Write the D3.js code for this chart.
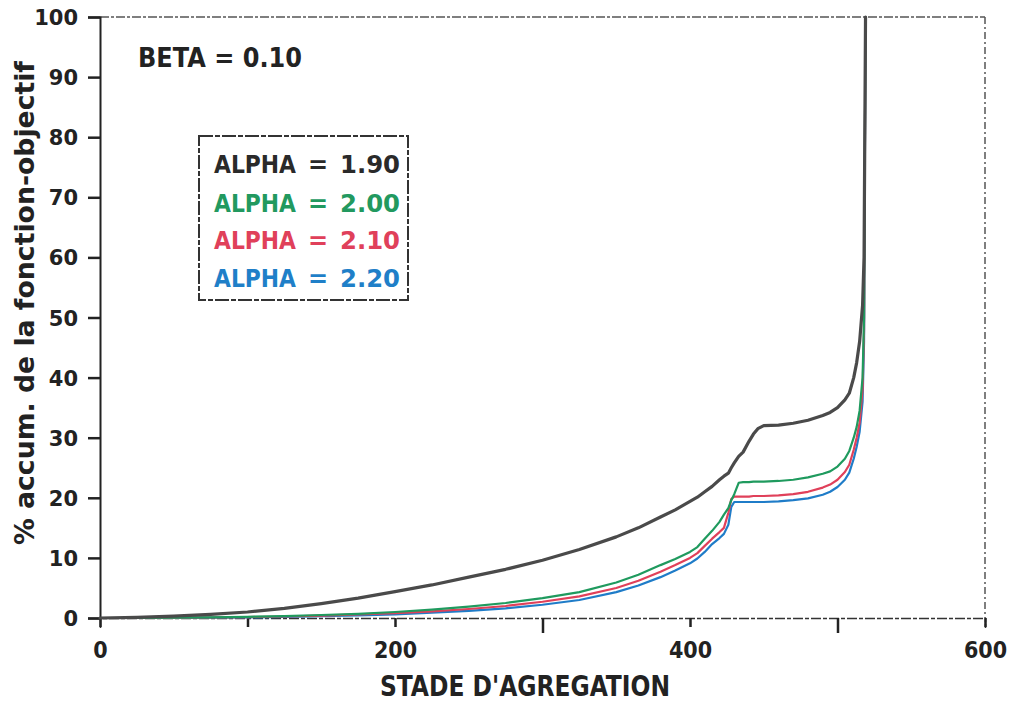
<!DOCTYPE html>
<html>
<head>
<meta charset="utf-8">
<script src="https://cdn.jsdelivr.net/npm/d3@7/dist/d3.min.js"></script>
<style>
  html, body { margin: 0; padding: 0; background: #fff; }
  svg { display: block; }
</style>
</head>
<body>
<svg id="chart" width="1012" height="702"></svg>
<script>
// Aggregation stage (x) shared by all series
const stades = [0, 25, 50, 75, 100, 125, 150, 175, 200, 225, 250, 275, 300, 325, 350, 365, 380, 390,
  400, 405, 410, 415, 420, 423, 426, 428, 430, 433, 436, 440, 443, 446, 450, 460, 470, 480, 490,
  495, 500, 505, 508, 511, 513, 515, 517, 518, 519];

// Cumulated % of the objective function for each ALPHA (BETA = 0.10)
const alpha190 = [0, 0.1, 0.3, 0.6, 1.0, 1.6, 2.4, 3.3, 4.4, 5.5, 6.8, 8.1, 9.6, 11.4, 13.5, 15.0, 16.8, 18.0,
  19.4, 20.1, 21.0, 21.9, 23.0, 23.6, 24.1, 25.0, 25.8, 26.9, 27.6, 29.4, 30.6, 31.5, 32.0, 32.1, 32.4, 32.9, 33.7,
  34.2, 35.0, 36.3, 37.4, 40.0, 42.5, 46.0, 52.0, 60.0, 100];
const alpha200 = [0, 0, 0.05, 0.1, 0.2, 0.3, 0.5, 0.7, 1.0, 1.4, 1.9, 2.5, 3.3, 4.3, 5.9, 7.2, 8.8, 9.8,
  11.0, 11.8, 13.2, 14.5, 16.0, 17.2, 18.3, 19.6, 20.6, 22.5, 22.6, 22.6, 22.7, 22.7, 22.7, 22.8, 23.0, 23.4, 24.0,
  24.4, 25.2, 26.5, 27.8, 30.0, 31.8, 34.5, 40.0, 50.0, 100];
const alpha210 = [0, 0, 0.04, 0.08, 0.15, 0.25, 0.4, 0.6, 0.8, 1.1, 1.5, 2.0, 2.7, 3.6, 5.0, 6.2, 7.7, 8.8,
  10.0, 10.8, 12.0, 13.2, 14.3, 15.0, 17.5, 19.8, 20.2, 20.2, 20.2, 20.2, 20.3, 20.3, 20.3, 20.4, 20.6, 21.0, 21.7,
  22.2, 23.0, 24.3, 25.5, 28.0, 30.0, 32.5, 38.0, 48.0, 100];
const alpha220 = [0, 0, 0.03, 0.06, 0.1, 0.2, 0.3, 0.45, 0.6, 0.9, 1.2, 1.6, 2.2, 3.0, 4.3, 5.4, 6.8, 7.9,
  9.1, 9.9, 11.0, 12.3, 13.3, 14.0, 15.5, 18.5, 19.3, 19.3, 19.3, 19.3, 19.3, 19.3, 19.3, 19.4, 19.6, 19.9, 20.5,
  21.0, 21.8, 23.0, 24.2, 26.5, 28.5, 31.0, 36.0, 46.0, 100];

const seriesNames = ["ALPHA = 1.90", "ALPHA = 2.00", "ALPHA = 2.10", "ALPHA = 2.20"];
const alphaLabels = ["1.90", "2.00", "2.10", "2.20"];
const seriesValues = [alpha190, alpha200, alpha210, alpha220];
const seriesColors = ["#4a4a4a", "#1f9a5e", "#e0405a", "#1f7cc8"];
const textColors = ["#2a2a2a", "#22995f", "#e0405a", "#1f7fc8"];

const xTicks = [0, 100, 200, 300, 400, 500, 600];
const xTickLabels = ["0", "", "200", "", "400", "", "600"];
const yTicks = [0, 10, 20, 30, 40, 50, 60, 70, 80, 90, 100];

const svg = d3.select("#chart");
const plotLeft = 100, plotRight = 985, plotTop = 17, plotBottom = 618;

const x = d3.scaleLinear().domain([0, 600]).range([plotLeft, plotRight]);
const y = d3.scaleLinear().domain([0, 100]).range([plotBottom, plotTop]);

// frame: top and right sides drawn lighter / broken
svg.append("line").attr("x1", plotLeft).attr("x2", plotRight).attr("y1", plotTop).attr("y2", plotTop)
  .attr("stroke", "#555").attr("stroke-width", 1.5).attr("stroke-dasharray", "9,2,3,2");
svg.append("line").attr("x1", plotRight).attr("x2", plotRight).attr("y1", plotTop).attr("y2", plotBottom)
  .attr("stroke", "#555").attr("stroke-width", 1.5).attr("stroke-dasharray", "7,3,2,3");

// Y axis
const yAxis = svg.append("g").attr("transform", `translate(${plotLeft},0)`)
  .call(d3.axisLeft(y).tickValues(yTicks).tickSize(12).tickPadding(10).tickFormat(d3.format("d")));
yAxis.select(".domain").attr("stroke", "#222").attr("stroke-width", 2);
yAxis.selectAll(".tick line").attr("stroke", "#222").attr("stroke-width", 2.5);
yAxis.selectAll(".tick text")
  .attr("fill", "#222")
  .style("font-family", "'DejaVu Sans', sans-serif")
  .style("font-weight", "bold")
  .style("font-size", "21px")
  .attr("dy", "0.36em");

// X axis
const xAxis = svg.append("g").attr("transform", `translate(0,${plotBottom})`)
  .call(d3.axisBottom(x).tickValues(xTicks).tickSize(10).tickPadding(14)
    .tickFormat((d, i) => xTickLabels[i]));
xAxis.select(".domain").attr("stroke", "#333").attr("stroke-width", 1.5).attr("stroke-dasharray", "10,2,4,2");
xAxis.selectAll(".tick line").attr("stroke", "#222").attr("stroke-width", 2.5)
  .attr("y2", d => (d === 300 || d === 500) ? 15 : 9);
xAxis.selectAll(".tick text")
  .attr("fill", "#222")
  .style("font-family", "'Liberation Sans Narrow', 'DejaVu Sans Condensed', sans-serif")
  .style("font-weight", "bold")
  .style("font-size", "23px");

// curves
const line = d3.line()
  .x((d, i) => x(stades[i]))
  .y(d => y(d));

const order = [3, 2, 1, 0];
order.forEach(k => {
  svg.append("path")
    .datum(seriesValues[k])
    .attr("d", line)
    .attr("fill", "none")
    .attr("stroke", seriesColors[k])
    .attr("stroke-width", k === 0 ? 3.2 : 2.2)
    .attr("stroke-linejoin", "round")
    .attr("stroke-linecap", "round");
});

// BETA caption
svg.append("text")
  .attr("x", 138).attr("y", 67)
  .attr("textLength", 164).attr("lengthAdjust", "spacingAndGlyphs")
  .attr("fill", "#222")
  .style("font-family", "'DejaVu Sans', sans-serif")
  .style("font-weight", "bold")
  .style("font-size", "27px")
  .text("BETA = 0.10");

// legend box
const legend = svg.append("g");
legend.append("rect")
  .attr("x", 199).attr("y", 136).attr("width", 209).attr("height", 164)
  .attr("fill", "none").attr("stroke", "#333").attr("stroke-width", 2)
  .attr("stroke-dasharray", "14,2,5,2");
const rowBase = [173, 212, 249, 287];
seriesNames.forEach((name, i) => {
  const g = legend.append("g")
    .attr("fill", textColors[i])
    .style("font-family", "'DejaVu Sans', sans-serif")
    .style("font-weight", i === 0 ? "bold" : "600")
    .style("font-size", "24px");
  g.append("text").attr("x", 214).attr("y", rowBase[i])
    .attr("textLength", 82).attr("lengthAdjust", "spacingAndGlyphs").text("ALPHA");
  g.append("text").attr("x", 318).attr("y", rowBase[i]).attr("text-anchor", "middle").text("=");
  g.append("text").attr("x", 400).attr("y", rowBase[i]).attr("text-anchor", "end")
    .attr("textLength", 60).attr("lengthAdjust", "spacingAndGlyphs").text(alphaLabels[i]);
});

// axis titles
svg.append("text")
  .attr("x", 525).attr("y", 696)
  .attr("text-anchor", "middle")
  .attr("textLength", 290).attr("lengthAdjust", "spacingAndGlyphs")
  .attr("fill", "#222")
  .style("font-family", "'Liberation Sans Narrow', 'DejaVu Sans Condensed', sans-serif")
  .style("font-weight", "bold")
  .style("font-size", "29px")
  .text("STADE D'AGREGATION");

svg.append("text")
  .attr("transform", "translate(34,303) rotate(-90)")
  .attr("text-anchor", "middle")
  .attr("textLength", 484).attr("lengthAdjust", "spacingAndGlyphs")
  .attr("fill", "#222")
  .style("font-family", "'DejaVu Sans', sans-serif")
  .style("font-weight", "bold")
  .style("font-size", "27px")
  .text("% accum. de la fonction-objectif");
</script>
</body>
</html>
